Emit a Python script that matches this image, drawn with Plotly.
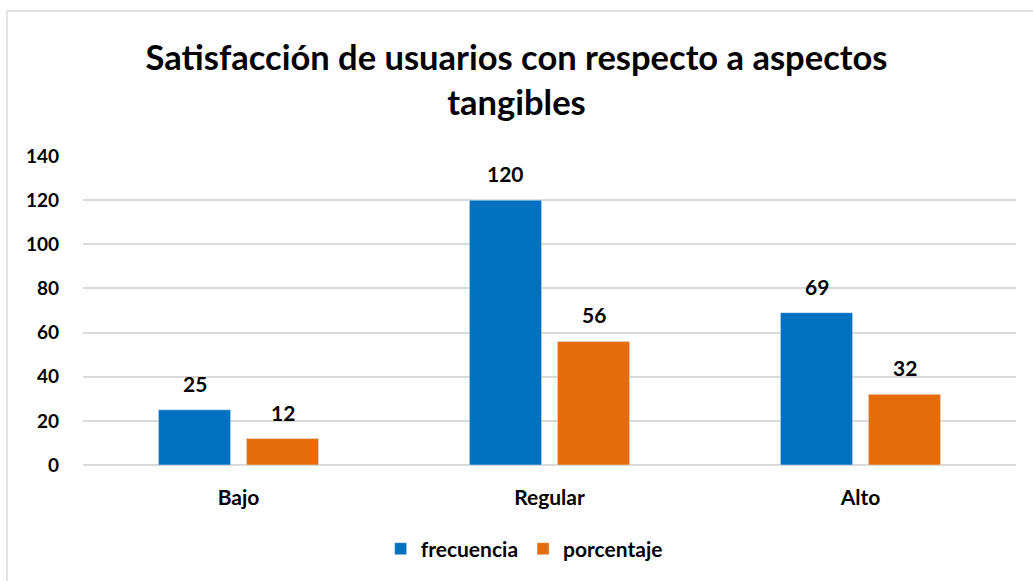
import plotly.graph_objects as go

categories = ["Bajo", "Regular", "Alto"]
frecuencia = [25, 120, 69]
porcentaje = [12, 56, 32]
y_ticks = [0, 20, 40, 60, 80, 100, 120, 140]

BLUE = "#0070C0"
ORANGE = "#E46C0A"
FONT = "Lato"

fig = go.Figure()
fig.add_trace(go.Bar(name="frecuencia", x=categories, y=frecuencia, marker_color=BLUE))
fig.add_trace(go.Bar(name="porcentaje", x=categories, y=porcentaje, marker_color=ORANGE))

annotations = []
for vals, shift in ((frecuencia, -44), (porcentaje, 44)):
    for c, v in zip(categories, vals):
        annotations.append(dict(x=c, y=v, xref="x", yref="y", text=str(v),
                                showarrow=False, yanchor="bottom", xshift=shift, yshift=12,
                                font=dict(family=FONT, size=21, color="#000", weight="bold")))

fig.update_layout(
    width=1033, height=581,
    margin=dict(l=83, r=17, t=156, b=116),
    paper_bgcolor="white", plot_bgcolor="white",
    barmode="group", bargap=0.434, bargroupgap=0.18,
    title=dict(text="Satisfacción de usuarios con respecto a aspectos<br>tangibles",
               x=0.5, xanchor="center", y=0.879, yanchor="middle",
               font=dict(family=FONT, size=34.5, color="#000", weight="bold")),
    font=dict(family=FONT, color="#000"),
    xaxis=dict(showgrid=False, showline=False, ticks="",
               tickfont=dict(size=21, family=FONT, weight="bold"), ticklabelstandoff=18),
    yaxis=dict(range=[0, 140], tickvals=y_ticks, showgrid=True, gridcolor="#d9d9d9",
               gridwidth=1.5, zeroline=True, zerolinecolor="#d9d9d9", zerolinewidth=1.5,
               tickfont=dict(size=19, family=FONT, weight="bold"), ticklabelstandoff=23),
    legend=dict(orientation="h", x=0.319, xanchor="left", y=-0.272, yanchor="middle",
                font=dict(size=21, family=FONT, weight="bold"), itemwidth=30,
                traceorder="normal"),
    annotations=annotations,
    shapes=[dict(type="rect", xref="paper", yref="paper", x0=-0.0815, x1=1.2, y0=-0.6, y1=1.469,
                 line=dict(color="#d9d9d9", width=1.5), fillcolor="rgba(0,0,0,0)", layer="below")],
)

fig.write_html("out.html", config={"displayModeBar": False},
               post_script="document.body.style.margin='0';document.body.style.overflow='hidden';")
